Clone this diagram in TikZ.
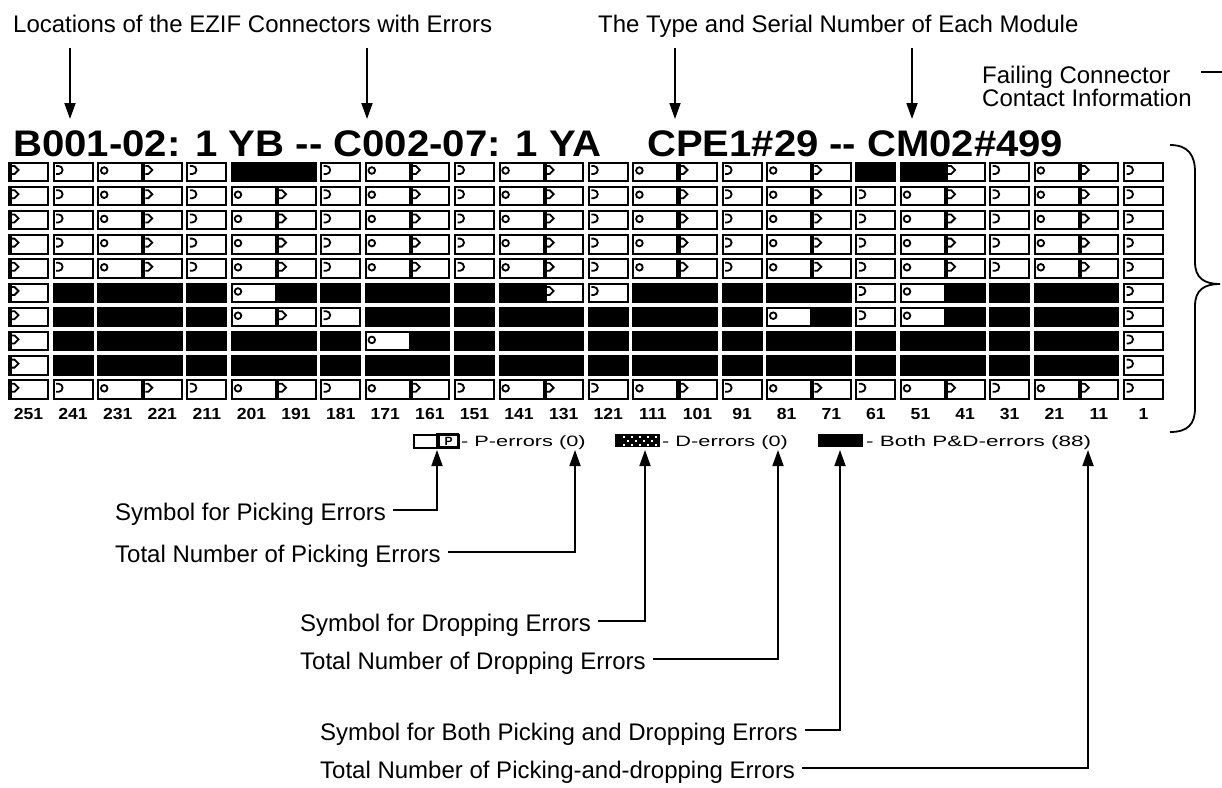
\documentclass[tikz,border=0pt]{standalone}
\usepackage{fontspec}
\usepackage{graphicx}
\setmainfont{Liberation Sans}
\usetikzlibrary{arrows.meta}
\def\rowZ{{0,0,0,0,0,0,0,0,0,0,0,0,0,0,0,0,0,0,0,0,0,0,0,0,0,0}}
\def\rowA{{0,0,0,0,0,1,1,0,0,0,0,0,0,0,0,0,0,0,0,1,1,0,0,0,0,0}}
\def\rowF{{0,1,1,1,1,0,1,1,1,1,1,1,0,0,1,1,1,1,1,0,0,1,1,1,1,0}}
\def\rowG{{0,1,1,1,1,0,0,0,1,1,1,1,1,1,1,1,1,0,1,0,0,1,1,1,1,0}}
\def\rowH{{0,1,1,1,1,1,1,1,0,1,1,1,1,1,1,1,1,1,1,1,1,1,1,1,1,0}}
\def\rowI{{0,1,1,1,1,1,1,1,1,1,1,1,1,1,1,1,1,1,1,1,1,1,1,1,1,0}}
\newcommand\glO[2]{\draw[gl] (#1+7,#2+9) circle[radius=3.3];}
\newcommand\glArrow[2]{\fill (#1,#2) rectangle (#1+3.5,#2+20.5);
  \draw[gl] (#1+3.5,#2+4.5) -- (#1+6.5,#2+4.5) -- (#1+10.5,#2+8.5) -- (#1+6.5,#2+12.5) -- (#1+3.5,#2+12.5);}
\newcommand\glS[2]{\draw[gl] (#1+3.5,#2+4.5) -- (#1+6,#2+4.5) arc[start angle=-90,end angle=90,radius=4] -- (#1+3.5,#2+12.5);}
\begin{document}
\begin{tikzpicture}[x=1pt,y=-1pt,
  ann/.style={inner sep=0pt, font=\fontsize{24}{28}\selectfont, anchor=base west},
  ttl/.style={inner sep=0pt, font=\fontsize{37}{40}\selectfont\bfseries, anchor=base west},
  lab/.style={inner sep=0pt, font=\fontsize{16}{18}\selectfont\bfseries, anchor=base},
  leg/.style={inner sep=0pt, font=\fontsize{15}{17}\selectfont, anchor=base west},
  cellb/.style={line width=2pt},
  gl/.style={line width=1.8pt},
  symbox/.style={minimum width=45pt, minimum height=13pt, inner sep=0pt, anchor=north west},
  arr/.style={line width=1.8pt, -{Triangle[length=16pt,width=11pt]}},
]
\useasboundingbox (0,0) rectangle (1222,787);

% top annotations
\node[ann] (loc) at (13,32) {Locations of the EZIF Connectors with Errors};
\node[ann] (typ) at (598,32) {The Type and Serial Number of Each Module};
\node[ann] (f1) at (982,83) {Failing Connector};
\node[ann] (f2) at (982,106) {Contact Information};
\draw[line width=1.8pt] ([xshift=30pt,yshift=5pt]f1.east) -- ++(26,0);

\coordinate (a1) at (70,48);  \coordinate (a1t) at (70,119);
\coordinate (a2) at (367,48); \coordinate (a2t) at (367,119);
\coordinate (a3) at (675,48); \coordinate (a3t) at (675,119);
\coordinate (a4) at (912,48); \coordinate (a4t) at (912,119);
\draw[arr] (a1) -- (a1t);
\draw[arr] (a2) -- (a2t);
\draw[arr] (a3) -- (a3t);
\draw[arr] (a4) -- (a4t);

% title
\node[ttl] (t1) at (13,156) {\scalebox{1.085}[1]{B001-02: 1 YB -{}- C002-07: 1 YA}};
\node[ttl] (t2) at (647,156) {\scalebox{1.082}[1]{CPE1\#29 -{}- CM02\#499}};

% grid
\foreach \j in {0,...,9}{
  \ifcase\j \let\cur\rowA \or \let\cur\rowZ \or \let\cur\rowZ \or \let\cur\rowZ \or \let\cur\rowZ
  \or \let\cur\rowF \or \let\cur\rowG \or \let\cur\rowH \or \let\cur\rowI \else \let\cur\rowZ \fi
  \foreach \k in {0,...,25}{
    \pgfmathtruncatemacro\bk{\cur[\k]}
    \pgfmathtruncatemacro\ty{\k==0 ? 3 : (\k==1 ? 2 : mod(\k-2,3))}
    \pgfmathsetmacro\xa{8+44.6*\k}
    \pgfmathsetmacro\xb{\xa+(\ty==0 ? 46 : 41)}
    \pgfmathsetmacro\ta{161.5+24.2*\j}
    \pgfmathsetmacro\tb{\ta+20.5}
    \ifnum\bk=1
      \fill (\xa,\ta) rectangle (\xb,\tb);
    \else
      \draw[cellb] (\xa+1,\ta+1) rectangle (\xb-1,\tb-1);
      \ifcase\ty \glO{\xa}{\ta} \or \glArrow{\xa}{\ta} \or \glS{\xa}{\ta} \or \glArrow{\xa}{\ta} \fi
    \fi
  }
}

% column numbers
\foreach \k in {0,...,25}{
  \pgfmathtruncatemacro\n{251-10*\k}
  \pgfmathsetmacro\cx{8+44.6*\k+20.5}
  \node[lab] (n\k) at (\cx,419) {\scalebox{1.1}[1]{\n}};
}

% legend
\node[symbox, draw, line width=1.5pt] (psym) at (413,434) {};
\draw[line width=1.5pt] (437,434) rectangle (458,447);
\fill (437,434) rectangle (439.5,447);
\node[inner sep=0pt, font=\fontsize{12}{12}\selectfont\bfseries] (pch) at (448.5,441) {P};
\node[leg] (ptx) at (461,446) {\scalebox{1.45}[1]{- P-errors (0)}};

\node[symbox, fill=black] (dsym) at (615,434) {};
\foreach \i in {0,...,8}{
  \foreach \m in {0,1,2}{
    \pgfmathtruncatemacro\parity{mod(\i+\m,2)}
    \ifnum\parity=0 \fill[white] (623+4*\i,436+3.8*\m) rectangle ++(2.4,2.4); \fi
  }
}
\node[leg] (dtx) at (662,446) {\scalebox{1.45}[1]{- D-errors (0)}};

\node[symbox, fill=black] (bsym) at (818,434) {};
\node[leg] (btx) at (866,446) {\scalebox{1.5}[1]{- Both P\&D-errors (88)}};

% bottom annotations
\node[ann] (s1) at (115,520) {Symbol for Picking Errors};
\node[ann] (s2) at (115,562) {Total Number of Picking Errors};
\node[ann] (s3) at (300,631) {Symbol for Dropping Errors};
\node[ann] (s4) at (300,669) {Total Number of Dropping Errors};
\node[ann] (s5) at (320,740) {Symbol for Both Picking and Dropping Errors};
\node[ann] (s6) at (320,778) {Total Number of Picking-and-dropping Errors};

\coordinate (p1) at (437,450);
\coordinate (p2) at (575,450);
\coordinate (p3) at (645,450);
\coordinate (p4) at (778,450);
\coordinate (p5) at (840,450);
\coordinate (p6) at (1088,450);
\draw[arr] ([xshift=7pt,yshift=10pt]s1.base east) -| (p1);
\draw[arr] ([xshift=7pt,yshift=10pt]s2.base east) -| (p2);
\draw[arr] ([xshift=7pt,yshift=10pt]s3.base east) -| (p3);
\draw[arr] ([xshift=7pt,yshift=10pt]s4.base east) -| (p4);
\draw[arr] ([xshift=7pt,yshift=10pt]s5.base east) -| (p5);
\draw[arr] ([xshift=7pt,yshift=10pt]s6.base east) -| (p6);

% brace
\draw[line width=1.8pt] (1170,145) .. controls (1188,145) and (1195,155) .. (1195,172)
  -- (1195,262) .. controls (1195,278) and (1204,284) .. (1220,284)
  .. controls (1204,284) and (1195,290) .. (1195,306)
  -- (1195,408) .. controls (1195,424) and (1188,432) .. (1170,432);
\end{tikzpicture}
\end{document}
